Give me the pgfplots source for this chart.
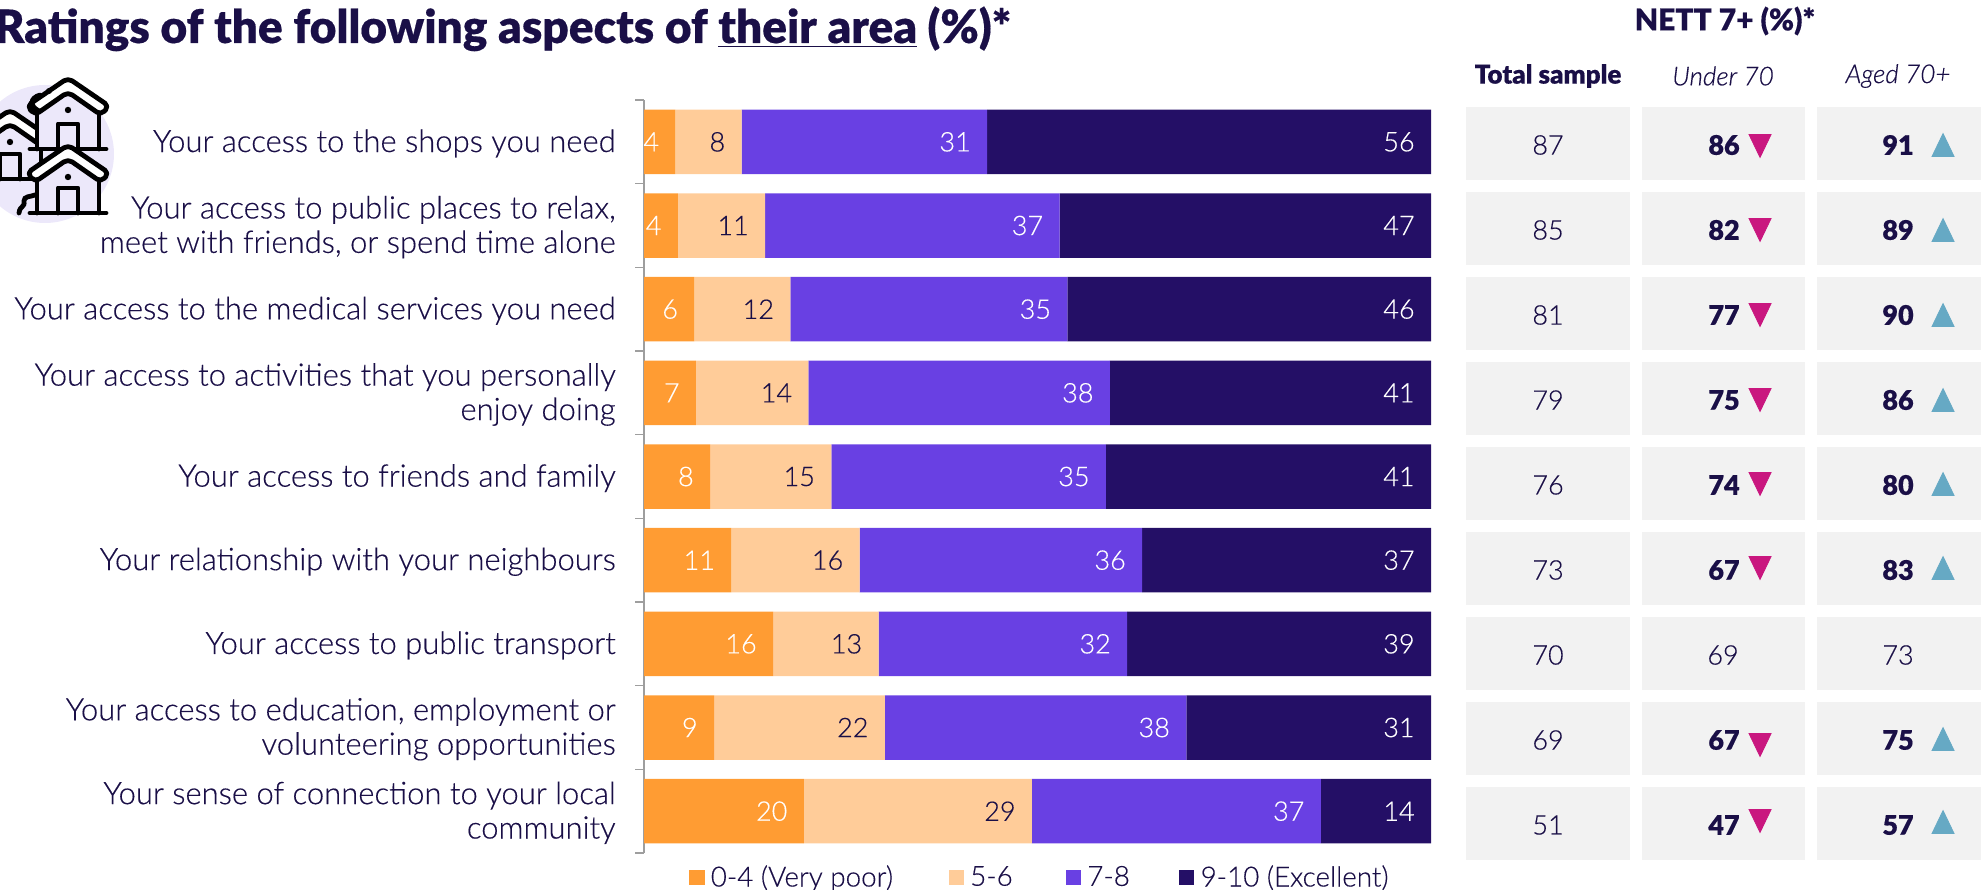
\documentclass[border=0pt]{standalone}
\usepackage{fontspec}
\setmainfont{Lato Light}[BoldFont=Lato Black,ItalicFont=Lato Light Italic,RawFeature={embolden=0.35}]
\usepackage{pgfplots}
\usepackage{pgfplotstable}
\pgfplotsset{compat=1.18}
\definecolor{ink}{HTML}{1A0F47}
\definecolor{cA}{HTML}{FF9C33}
\definecolor{cB}{HTML}{FFCC99}
\definecolor{cC}{HTML}{6940E3}
\definecolor{cD}{HTML}{240F66}
\definecolor{cell}{HTML}{F2F2F2}
\definecolor{downc}{HTML}{C9177F}
\definecolor{upc}{HTML}{66A9C4}
\definecolor{halo}{HTML}{ECE8FA}

% rating shares per aspect, with the right-hand end of each segment
\pgfplotstableread{
row a b c d ea eb ec ed
0 4.0 8.4 31.2 56.4 4.0 12.4 43.6 100
1 4.3 11.1 37.4 47.2 4.3 15.4 52.8 100
2 6.4 12.2 35.2 46.2 6.4 18.6 53.8 100
3 6.6 14.3 38.3 40.8 6.6 20.9 59.2 100
4 8.4 15.4 34.9 41.3 8.4 23.8 58.7 100
5 11.1 16.3 35.9 36.7 11.1 27.4 63.3 100
6 16.4 13.4 31.6 38.6 16.4 29.8 61.4 100
7 8.9 21.7 38.3 31.1 8.9 30.6 68.9 100
8 20.3 29.0 36.7 14.0 20.3 49.3 86.0 100
}\ratings

% NETT 7+ figures, positions in picture units
\pgfplotstableread{
x y v
1548 145 87
1548 230 85
1548 315 81
1548 400 79
1548 485 76
1548 570 73
1548 655 70
1548 740 69
1548 825 51
1723 655 69
1898 655 73
}\plainvals
\pgfplotstableread{
x y v
1724 145 86
1724 230 82
1724 315 77
1724 400 75
1724 485 74
1724 570 67
1724 740 67
1724 825 47
1898 145 91
1898 230 89
1898 315 90
1898 400 86
1898 485 80
1898 570 83
1898 740 75
1898 825 57
}\boldvals
\pgfplotstableread{
x y
1760 146
1760 230
1760 315
1760 400
1760 484
1760 568
1760 745
1760 821
}\downmarks
\pgfplotstableread{
x y
1943 145
1943 230
1943 315
1943 400
1943 484
1943 568
1943 739
1943 822
}\upmarks

% one house: apex at (#1,#2), ground #3 units below it
\newcommand{\house}[3]{%
  \begin{scope}[shift={(#1,#2)},line width=2.4pt,draw=black,line join=round,line cap=round]
    \fill[halo] (-31,28) -- (0,6) -- (31,28) -- (31,#3) -- (-31,#3) -- cycle;
    \draw (-31,30) -- (-31,#3);
    \draw (31,30) -- (31,#3);
    \draw (-38,#3) -- (38,#3);
    \draw[fill=white,rounded corners=2.5pt] (0,0) -- (41,28) -- (33,37) -- (0,14) -- (-33,37) -- (-41,28) -- cycle;
    \draw (-10,#3) -- (-10,{#3-25}) -- (10,{#3-25}) -- (10,#3);
    \fill[black] (0,32) circle (3.2);
  \end{scope}}

\pgfplotsset{
  inbar/.style={only marks,mark=none,point meta=explicit,nodes near coords,
    nodes near coords style={anchor=east,inner sep=0pt,xshift=-8pt,text=#1,
      font=\fontsize{13.5}{16}\selectfont}}}

\begin{document}
\begin{tikzpicture}
\path[use as bounding box] (0,0) rectangle (992pt,444.5pt);
\clip (0,0) rectangle (992pt,444.5pt);

% panel on the right: cells, headings, figures and arrows
\begin{axis}[at={(0,0)},anchor=south west,scale only axis,width=992pt,height=444.5pt,
  xmin=0,xmax=1984,ymin=0,ymax=889,y dir=reverse,hide axis,clip=false]
  \pgfplotsinvokeforeach{0,...,8}{
    \fill[cell] (axis cs:1466,107+85*#1) rectangle (axis cs:1630,180+85*#1);
    \fill[cell] (axis cs:1642,107+85*#1) rectangle (axis cs:1805,180+85*#1);
    \fill[cell] (axis cs:1817,107+85*#1) rectangle (axis cs:1981,180+85*#1);
  }
  \addplot[only marks,mark=none,text=ink,point meta=explicit,nodes near coords,
    nodes near coords style={anchor=center,inner sep=0pt,yshift=0pt,font=\fontsize{13.5}{16}\selectfont,text=ink,
      /pgf/number format/assume math mode=true}]
    table[x=x,y=y,meta=v]{\plainvals};
  \addplot[only marks,mark=none,text=ink,point meta=explicit,nodes near coords,
    nodes near coords style={anchor=center,inner sep=0pt,font=\bfseries\fontsize{13.5}{16}\selectfont,text=ink,
      /pgf/number format/assume math mode=true}]
    table[x=x,y=y,meta=v]{\boldvals};
  \addplot[only marks,mark=triangle*,mark size=6.35pt,color=downc,
    mark options={yshift=1.9pt,yscale=1.2,rotate=180,draw=none,fill=downc}]
    table[x=x,y=y]{\downmarks};
  \addplot[only marks,mark=triangle*,mark size=6.35pt,color=upc,
    mark options={yshift=-1.9pt,yscale=1.2,draw=none,fill=upc}]
    table[x=x,y=y]{\upmarks};
  \node[text=ink,font=\bfseries\fontsize{15}{18}\selectfont] at (axis cs:1725,21) {NETT 7+ (\%)*};
  \node[text=ink,font=\bfseries\fontsize{13}{16}\selectfont] at (axis cs:1548,76) {Total sample};
  \node[text=ink,font=\itshape\fontsize{13}{16}\selectfont] at (axis cs:1723,76) {Under 70};
  \node[text=ink,font=\itshape\fontsize{13}{16}\selectfont] at (axis cs:1898,76) {Aged 70+};
\end{axis}

% title
\node[anchor=base west,text=ink,font=\bfseries\fontsize{23}{26}\selectfont,inner sep=0pt] at (-3pt,423pt)
  {Ratings of the following aspects of \underline{their area} (\%)*};

% houses on a pale disc
\begin{scope}[x=0.5pt,y=-0.5pt,shift={(0pt,444.5pt)}]
  \fill[halo] (45,154) circle (69);
  \house{10}{110}{69}
  \house{68}{78}{71}
  \house{68}{145}{68}
  \draw[line width=2.4pt,line cap=round] (19,213) .. controls (20,205) and (25,208) .. (24,201) .. controls (24,196) and (30,197) .. (35,195);
  \draw[line width=2.4pt,line cap=round] (39,111) .. controls (29,106) and (30,98) .. (40,95);
  \fill[black] (49,91) circle (3);
\end{scope}

% stacked bars
\begin{axis}[at={(322pt,18pt)},anchor=south west,scale only axis,width=393.5pt,height=376.5pt,
  xbar stacked,bar width=32.25pt,bar shift=0pt,
  xmin=0,xmax=100,ymin=-0.5,ymax=8.5,y dir=reverse,
  axis x line=none,axis y line*=left,axis line style={color=black!38,line width=0.6pt,-},
  ytick={0,...,8},
  yticklabels={{Your access to the shops you need},
    {Your access to public places to relax,\\meet with friends, or spend time alone},
    {Your access to the medical services you need},
    {Your access to activities that you personally\\enjoy doing},
    {Your access to friends and family},
    {Your relationship with your neighbours},
    {Your access to public transport},
    {Your access to education, employment or\\volunteering opportunities},
    {Your sense of connection to your local\\community}},
  yticklabel style={align=right,text=ink,font=\fontsize{15.5}{17.2}\selectfont,inner sep=0pt,xshift=-14pt,yshift=-0.8pt},
  minor ytick={-0.5,0.5,...,8.5},
  major tick length=0pt,minor tick length=4.5pt,
  tick align=outside,
  every minor tick/.style={color=black!38,line width=0.6pt},
  clip=false,
  legend columns=4,
  legend cell align=left,
  legend style={at={(0.0577,-0.011)},anchor=north west,draw=none,fill=none,inner sep=0pt,outer sep=0pt,
    font=\fontsize{13.9}{16}\selectfont,text=ink,
    /tikz/every odd column/.style={column sep=1.1pt},
    /tikz/column 2/.style={column sep=25.9pt},
    /tikz/column 4/.style={column sep=24.6pt},
    /tikz/column 6/.style={column sep=22.7pt}},
  legend image code/.code={\fill[#1] (0pt,-3.8pt) rectangle (7.6pt,3.8pt);},
]
  \addplot+[draw=none,fill=cA] table[x=a,y=row]{\ratings};
  \addplot+[draw=none,fill=cB] table[x=b,y=row]{\ratings};
  \addplot+[draw=none,fill=cC] table[x=c,y=row]{\ratings};
  \addplot+[draw=none,fill=cD] table[x=d,y=row]{\ratings};
  \legend{0-4 (Very poor),5-6,7-8,9-10 (Excellent)}
\end{axis}

% value labels, set inside the right-hand end of each segment
\begin{axis}[at={(322pt,18pt)},anchor=south west,scale only axis,width=393.5pt,height=376.5pt,
  xmin=0,xmax=100,ymin=-0.5,ymax=8.5,y dir=reverse,hide axis,clip=false,
  /pgf/number format/fixed,/pgf/number format/precision=0,
  /pgf/number format/assume math mode=true]
  \addplot[inbar=white] table[x=ea,y=row,meta=a]{\ratings};
  \addplot[inbar=ink] table[x=eb,y=row,meta=b]{\ratings};
  \addplot[inbar=white] table[x=ec,y=row,meta=c]{\ratings};
  \addplot[inbar=white] table[x=ed,y=row,meta=d]{\ratings};
\end{axis}
\end{tikzpicture}
\end{document}
